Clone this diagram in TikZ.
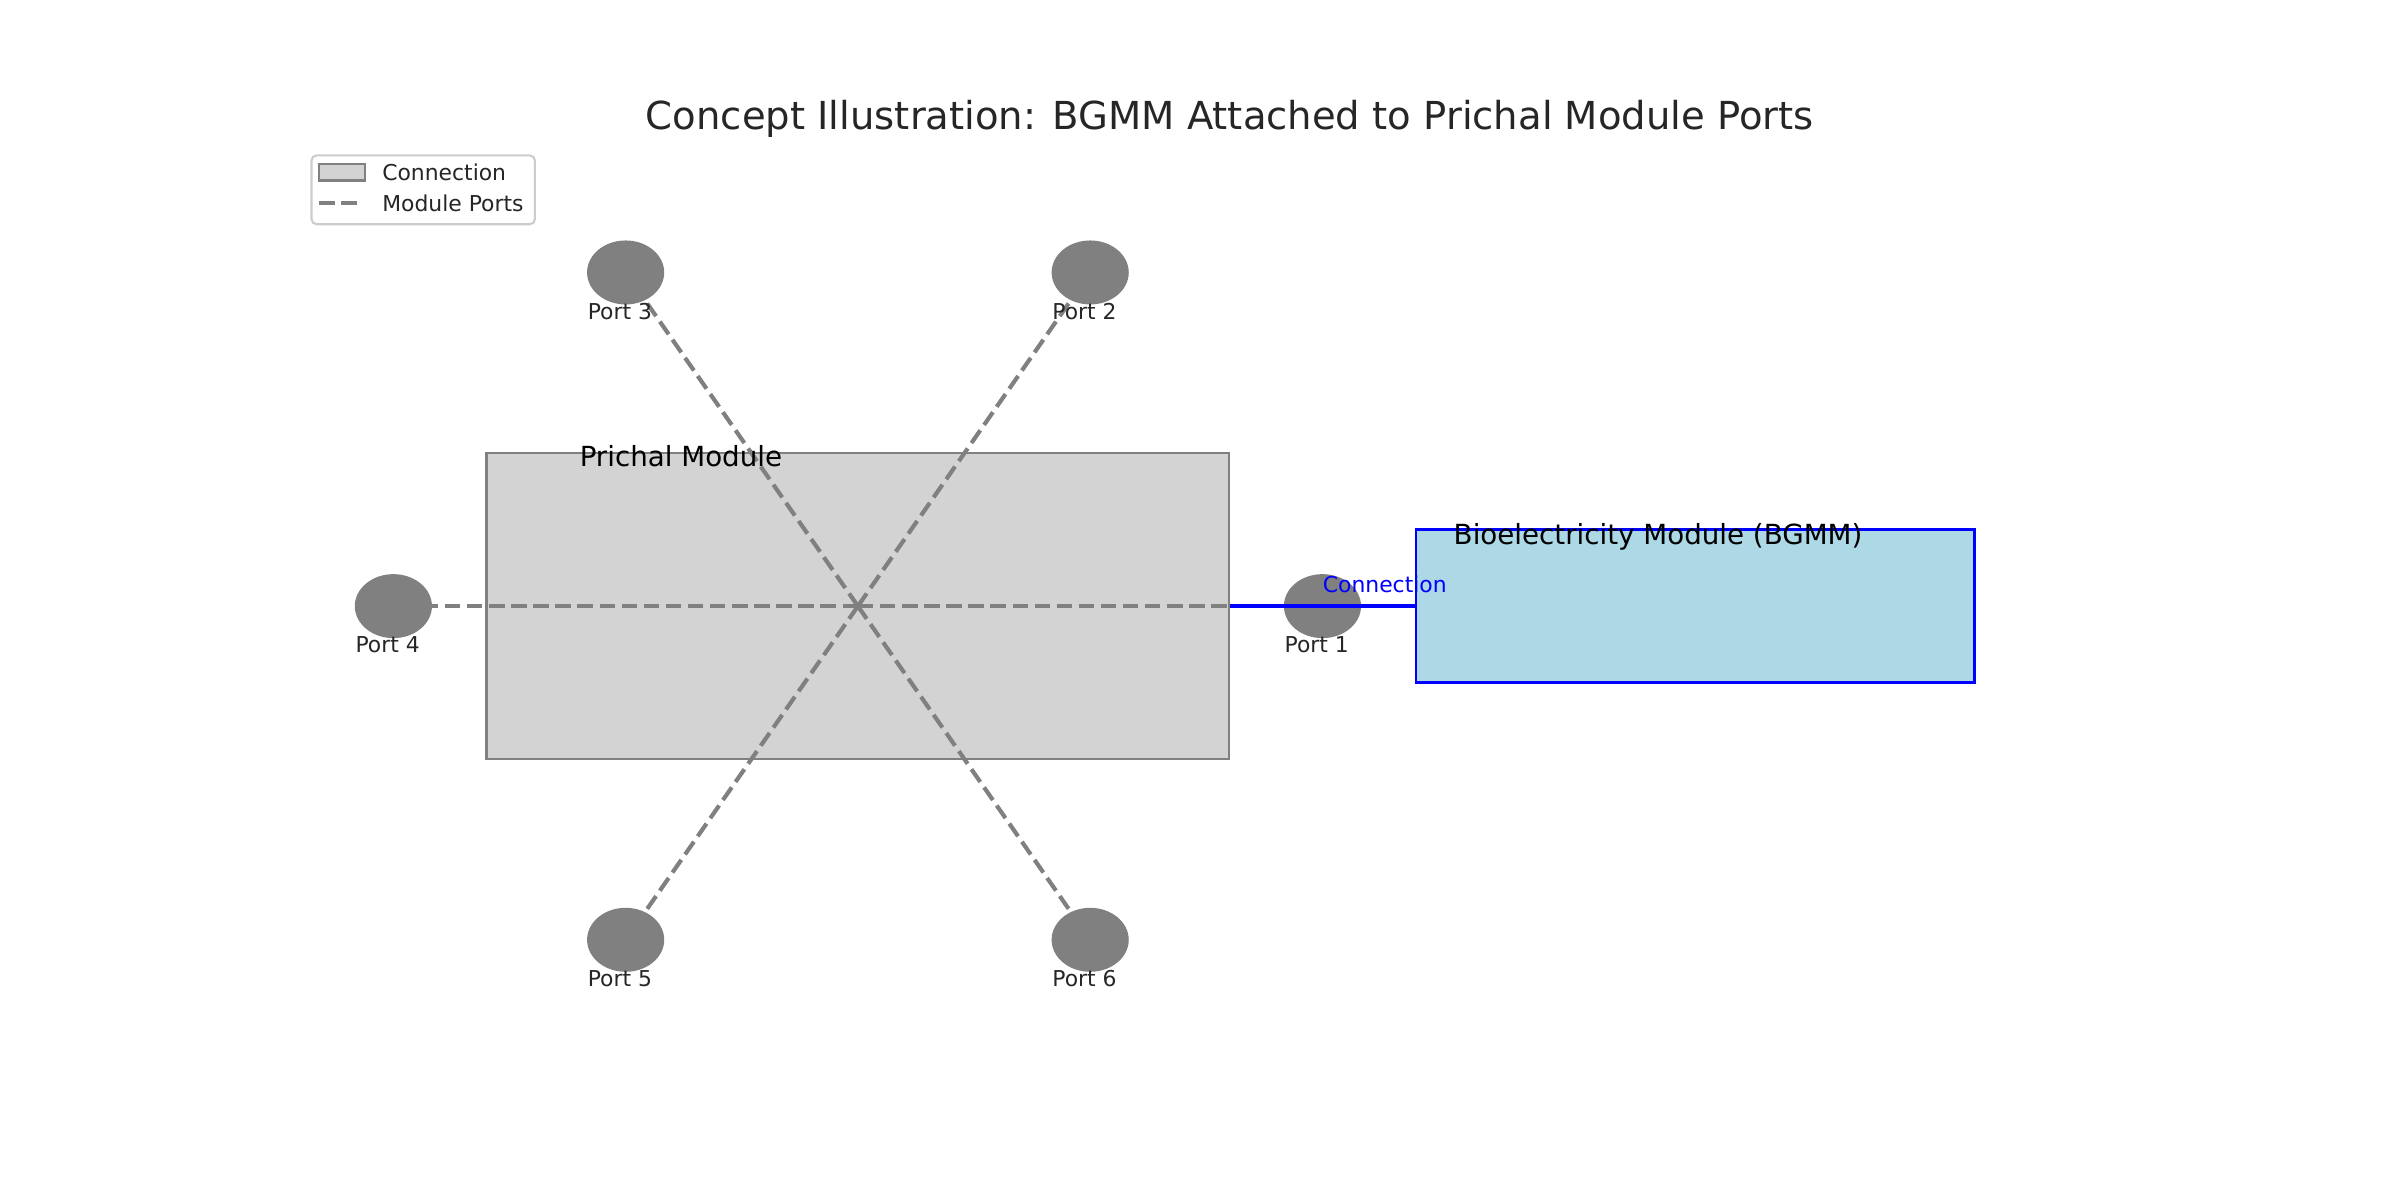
\documentclass[tikz,border=0pt]{standalone}
\usepackage{fontspec}
\setmainfont{DejaVu Sans}
\usepackage{tikz}
\usetikzlibrary{shapes.geometric}

\definecolor{txtgray}{HTML}{262626}
\definecolor{portgray}{HTML}{808080}
\definecolor{boxgray}{HTML}{D3D3D3}
\definecolor{bgmmblue}{HTML}{ADD8E6}
\definecolor{legendedge}{HTML}{CCCCCC}

\newlength\pxu
\setlength\pxu{0.73469pt}

\tikzset{
  port/.style={ellipse, fill=portgray, inner sep=0pt,
    minimum width={50.4*\pxu}, minimum height={41.8*\pxu}},
  portline/.style={draw=portgray, line width=2pt, dash pattern=on 7.4pt off 3.2pt},
  connline/.style={draw=blue, line width=2pt},
  prichalbox/.style={rectangle, draw=portgray, fill=boxgray, line width=1.2pt, inner sep=0pt,
    minimum width={485*\pxu}, minimum height={200*\pxu}},
  bgmmbox/.style={rectangle, draw=blue, fill=bgmmblue, line width=1.2pt, inner sep=0pt,
    minimum width={365*\pxu}, minimum height={100*\pxu}},
  titletext/.style={anchor=base, inner sep=0pt, text=txtgray, font=\fontsize{18.5}{22}\selectfont},
  boxtext/.style={anchor=base west, inner sep=0pt, text=black, font=\fontsize{13.3}{16}\selectfont},
  portlabel/.style={anchor=base west, inner sep=0pt, text=txtgray, font=\fontsize{10.5}{12}\selectfont},
  conntext/.style={anchor=base west, inner sep=0pt, text=blue, font=\fontsize{10.5}{12}\selectfont},
  legtext/.style={anchor=base west, inner sep=0pt, text=txtgray, font=\fontsize{10.5}{12}\selectfont},
  legendframe/.style={rectangle, draw=legendedge, fill=white, line width=1pt, rounded corners=2.5pt,
    inner sep=0pt, minimum width={146*\pxu}, minimum height={45*\pxu}},
  legpatch/.style={rectangle, draw=portgray, fill=boxgray, line width=1.2pt, inner sep=0pt,
    minimum width={30*\pxu}, minimum height={11*\pxu}}
}

\begin{document}
\begin{tikzpicture}[x=0.73469pt, y=-0.73469pt]
\useasboundingbox (0,0) rectangle (1568,784);

% title and legend
\node[titletext] (title) at (803.5,84.5) {Concept Illustration: BGMM Attached to Prichal Module Ports};
\node[legendframe] (legend) at (276.5,124) {};
\node[legpatch] (legpatch) at (223.5,112.5) {};
\coordinate (legdashA) at (208.6,132.4);
\coordinate (legdashB) at (233.5,132.4);
\draw[portline] (legdashA) -- (legdashB);
\node[legtext] (legconn) at (249.5,118) {Connection};
\node[legtext] (legports) at (249.5,138.3) {Module Ports};

% the two modules
\node[prichalbox] (prichal) at (560.5,396) {};
\node[bgmmbox] (bgmm) at (1107.5,396) {};

% ports round the hub
\coordinate (hub) at (560.5,396);
\coordinate (p1) at (864,396);
\coordinate (p2) at (712.25,178);
\coordinate (p3) at (408.75,178);
\coordinate (p4) at (257,396);
\coordinate (p5) at (408.75,614);
\coordinate (p6) at (712.25,614);
\draw[portline] (hub) -- (p1);
\draw[portline] (hub) -- (p2);
\draw[portline] (hub) -- (p3);
\draw[portline] (hub) -- (p4);
\draw[portline] (hub) -- (p5);
\draw[portline] (hub) -- (p6);
\node[port] (port1) at (p1) {};
\node[port] (port2) at (p2) {};
\node[port] (port3) at (p3) {};
\node[port] (port4) at (p4) {};
\node[port] (port5) at (p5) {};
\node[port] (port6) at (p6) {};
\node[portlabel] (lbl1) at (839,426.5) {Port 1};
\node[portlabel] (lbl2) at (687.25,208.5) {Port 2};
\node[portlabel] (lbl3) at (383.75,208.5) {Port 3};
\node[portlabel] (lbl4) at (232,426.5) {Port 4};
\node[portlabel] (lbl5) at (383.75,644.5) {Port 5};
\node[portlabel] (lbl6) at (687.25,644.5) {Port 6};

% connection to the BGMM
\draw[connline] (prichal.east) -- (bgmm.west);
\node[conntext] (connlbl) at (864,387) {Connection};
\node[boxtext] (prichallbl) at (378.5,305) {Prichal Module};
\node[boxtext] (bgmmlbl) at (949.5,355.5) {Bioelectricity Module (BGMM)};
\end{tikzpicture}
\end{document}
